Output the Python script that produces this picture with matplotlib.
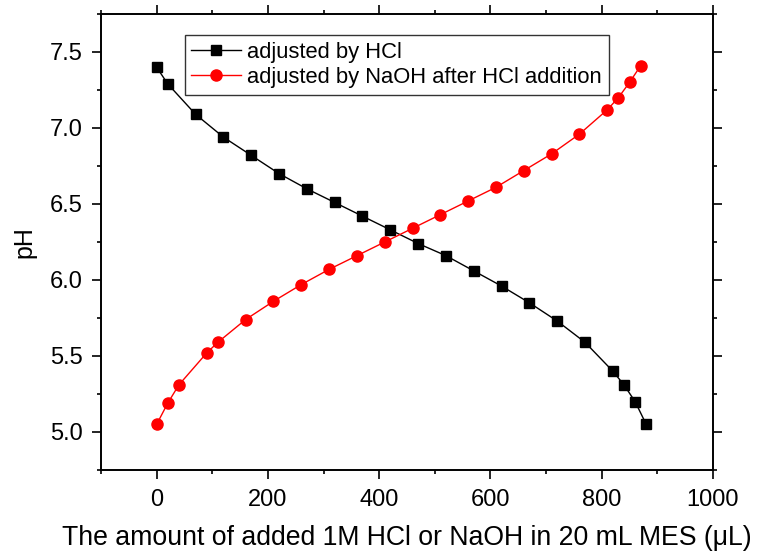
import matplotlib
matplotlib.use("Agg")
import matplotlib.pyplot as plt
from matplotlib.ticker import MultipleLocator

plt.rcParams['font.family'] = ['Liberation Sans', 'DejaVu Sans']

# titration with HCl
hcl_x = [0, 20, 70, 120, 170, 220, 270, 320, 370, 420, 470, 520, 570, 620,
         670, 720, 770, 820, 840, 860, 880]
hcl_ph = [7.40, 7.29, 7.09, 6.94, 6.82, 6.70, 6.60, 6.51, 6.42, 6.33, 6.24,
          6.16, 6.06, 5.96, 5.85, 5.73, 5.59, 5.40, 5.31, 5.20, 5.05]

# back titration with NaOH
naoh_x = [0, 20, 40, 90, 110, 160, 210, 260, 310, 360, 410, 460, 510, 560,
          610, 660, 710, 760, 810, 830, 850, 870]
naoh_ph = [5.05, 5.19, 5.31, 5.52, 5.59, 5.74, 5.86, 5.97, 6.07, 6.16, 6.25,
           6.34, 6.43, 6.52, 6.61, 6.72, 6.83, 6.96, 7.12, 7.20, 7.30, 7.41]

fig = plt.figure(figsize=(7.63, 5.53), dpi=100)
ax = fig.add_axes([101/763, 1 - 470/553, 612/763, 456/553])

ax.plot(hcl_x, hcl_ph, color='black', marker='s', markersize=7, lw=1,
        label='adjusted by HCl')
ax.plot(naoh_x, naoh_ph, color='red', marker='o', markersize=8, lw=1,
        label='adjusted by NaOH after HCl addition')

ax.set_xlim(-100, 1000)
ax.set_ylim(4.75, 7.75)
ax.xaxis.set_major_locator(MultipleLocator(200))
ax.xaxis.set_minor_locator(MultipleLocator(100))
ax.yaxis.set_major_locator(MultipleLocator(0.5))
ax.yaxis.set_minor_locator(MultipleLocator(0.25))
ax.tick_params(which='both', direction='out', top=True, right=True,
               labelsize=17, width=1.2)
ax.tick_params(which='major', length=6.5)
ax.tick_params(which='minor', length=3)
ax.tick_params(axis='x', which='major', pad=7)
ax.tick_params(axis='y', which='major', pad=6.5)
for s in ax.spines.values():
    s.set_linewidth(1.4)

ax.set_xlabel('The amount of added 1M HCl or NaOH in 20 mL MES (μL)',
              fontsize=19.2, labelpad=10)
ax.set_ylabel('pH', fontsize=18, labelpad=10)

leg = ax.legend(loc='upper left', bbox_to_anchor=(0.137, 0.954), fontsize=15.8,
                frameon=True, fancybox=False, edgecolor='black',
                borderaxespad=0, borderpad=0.3, labelspacing=0.2,
                handlelength=2.25, handletextpad=0.3)
leg.get_frame().set_linewidth(1)

fig.savefig('out.png', dpi=100)
